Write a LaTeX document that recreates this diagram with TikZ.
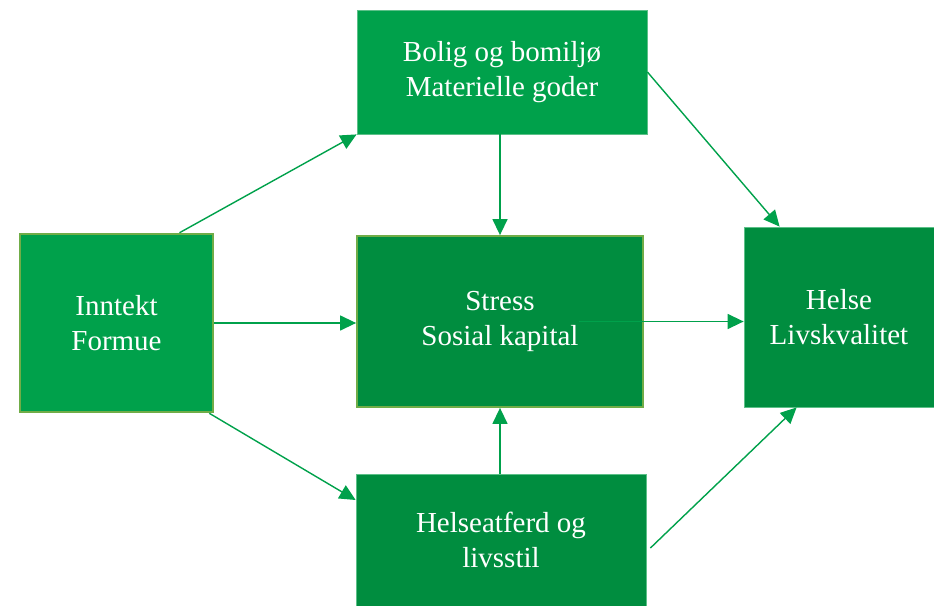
\documentclass[tikz,border=0pt]{standalone}
\usepackage{fontspec}
\setmainfont{Liberation Serif}
\usepackage{tikz}
\usetikzlibrary{positioning}
\usetikzlibrary{arrows.meta}
\usepackage{xcolor}

\definecolor{lightgrn}{HTML}{00A14B}
\definecolor{darkgrn}{HTML}{008D3F}
\definecolor{olivegrn}{HTML}{70AD47}
\definecolor{edgegrn}{HTML}{5CC088}

\begin{document}
\begin{tikzpicture}[x=1pt, y=-1pt,
  box/.style={draw=edgegrn, line width=0.8pt, text=white, align=center, inner sep=0pt,
    font=\fontsize{29}{35}\selectfont},
  lightbox/.style={box, fill=lightgrn},
  darkbox/.style={box, fill=darkgrn},
  link/.style={draw=lightgrn, line width=1.4pt, -{Triangle[length=16pt,width=15pt]}}]

\useasboundingbox (0,0) rectangle (934,605);

% boxes
\node[lightbox, draw=olivegrn, line width=2.5pt, minimum width=193pt, minimum height=178pt]
  (inntekt) at (116.5,323) {Inntekt\\Formue};
\node[lightbox, minimum width=290pt, minimum height=124pt]
  (bolig) at (502,72) {Bolig og bomilj\o\\Materielle goder};
\node[darkbox, draw=olivegrn, line width=1.8pt, minimum width=286pt, minimum height=171pt]
  (stress) at (500,321.5) {Stress\\Sosial kapital};
\node[darkbox, minimum width=190pt, minimum height=180pt]
  (helse) at (839,317) {Helse\\Livskvalitet};
\node[darkbox, minimum width=290pt, minimum height=132pt]
  (atferd) at (501,540) {Helseatferd og\\livsstil};

% arrows
\draw[link] ([xshift=63pt]inntekt.north) -- (bolig.south west);
\draw[link] (inntekt.east) -- (inntekt.east -| stress.west);
\draw[link] ([xshift=-5pt]inntekt.south east) -- ([yshift=40pt]atferd.west);
\draw[link] (stress.north |- bolig.south) -- (stress.north);
\draw[link] (stress.south |- atferd.north) -- (stress.south);
\draw[link] ([xshift=-65pt]stress.east) -- (stress.east -| helse.west);
\draw[link] (bolig.east) -- ([xshift=36pt]helse.north west);
\draw[link] ([xshift=4pt,yshift=-8pt]atferd.east) -- ([xshift=53pt]helse.south west);

\end{tikzpicture}
\end{document}
